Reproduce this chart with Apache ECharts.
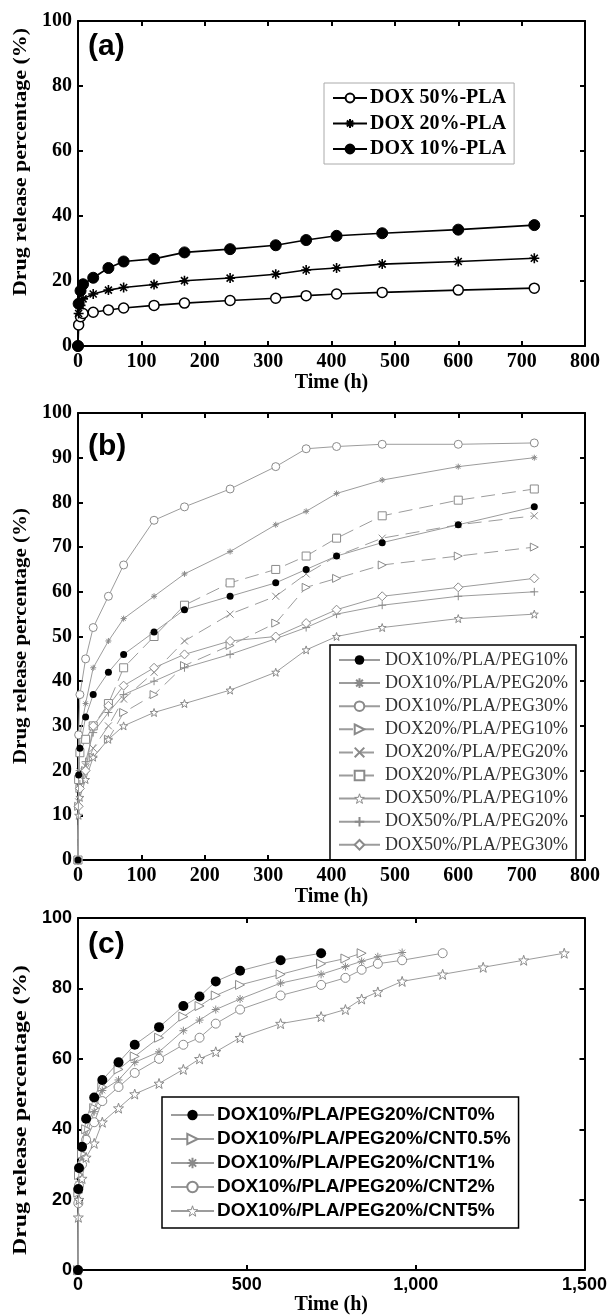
<!DOCTYPE html>
<html>
<head>
<meta charset="utf-8">
<script src="https://cdn.jsdelivr.net/npm/echarts@6/dist/echarts.min.js"></script>
<style>
  html, body { margin: 0; padding: 0; background: #fff; }
  #main { width: 610px; height: 1316px; }
</style>
</head>
<body>
<div id="main"></div>
<script>
// ---- panel (a) : DOX-PLA ----
var timeA = [0, 1, 4, 8, 24, 48, 72, 120, 168, 240, 312, 360, 408, 480, 600, 720];
var dox50A = [0, 6.5, 9, 10, 10.4, 11.1, 11.7, 12.5, 13.2, 14, 14.7, 15.5, 16, 16.5, 17.2, 17.8];
var dox20A = [0, 10, 12.5, 14.5, 16, 17.2, 18, 18.9, 20.1, 20.9, 22.1, 23.4, 24, 25.2, 26, 27];
var dox10A = [0, 13, 17, 19, 21, 24, 26, 26.8, 28.8, 29.8, 31, 32.6, 33.9, 34.7, 35.8, 37.2];

// ---- panel (b) : DOX/PLA/PEG ----
var timeB = [0, 1, 3, 12, 24, 48, 72, 120, 168, 240, 312, 360, 408, 480, 600, 720];
var d10p10 = [0, 19, 25, 32, 37, 42, 46, 51, 56, 59, 62, 65, 68, 71, 75, 79];
var d10p20 = [0, 20, 28, 35, 43, 49, 54, 59, 64, 69, 75, 78, 82, 85, 88, 90];
var d10p30 = [0, 28, 37, 45, 52, 59, 66, 76, 79, 83, 88, 92, 92.5, 93, 93, 93.3];
var d20p10 = [0, 12, 16, 20, 23, 27, 33, 37, 43.5, 48, 53, 61, 63, 66, 68, 70];
var d20p20 = [0, 13, 17, 21, 25, 30, 36, 42, 49, 55, 59, 64, 68, 72, 75, 77];
var d20p30 = [0, 18, 24, 27, 30, 35, 43, 50, 57, 62, 65, 68, 72, 77, 80.5, 83];
var d50p10 = [0, 10, 14, 18, 23, 27, 30, 33, 35, 38, 42, 47, 50, 52, 54, 55];
var d50p20 = [0, 12, 17, 22, 28.5, 33, 37, 40, 43, 46, 49.5, 52, 55, 57, 59, 60];
var d50p30 = [0, 12, 16, 20, 30, 34.5, 39, 43, 46, 49, 50, 53, 56, 59, 61, 63];

// ---- panel (c) : CNT content ----
var timeC = [0, 1, 3, 12, 24, 48, 72, 120, 168, 240, 312, 360, 408, 480, 600, 720, 792, 840, 888, 960, 1080, 1200, 1320, 1440];
var cnt0 = [0, 23, 29, 35, 43, 49, 54, 59, 64, 69, 75, 77.7, 82, 85, 88, 90];
var cnt05 = [0, 22, 27, 33, 40, 46, 52, 57, 60.7, 66, 72, 75, 78, 81, 84, 87, 88.5, 90];
var cnt1 = [0, 20, 25, 31, 38, 45, 51, 54, 59, 62, 68, 71, 74, 77, 81.5, 84, 86.2, 87.7, 89, 90.2];
var cnt2 = [0, 19, 24, 30, 37, 42, 48, 52, 56, 60, 64, 66, 70, 74, 78, 81, 83, 85.3, 87, 88, 90];
var cnt5 = [0, 15, 20, 26, 32, 36, 42, 46, 50, 53, 57, 60, 62, 66, 70, 72, 74, 77, 79, 82, 84, 86, 88, 90];

var namesA = ['DOX 50%-PLA', 'DOX 20%-PLA', 'DOX 10%-PLA'];
var namesB = ['DOX10%/PLA/PEG10%', 'DOX10%/PLA/PEG20%', 'DOX10%/PLA/PEG30%',
              'DOX20%/PLA/PEG10%', 'DOX20%/PLA/PEG20%', 'DOX20%/PLA/PEG30%',
              'DOX50%/PLA/PEG10%', 'DOX50%/PLA/PEG20%', 'DOX50%/PLA/PEG30%'];
var namesC = ['DOX10%/PLA/PEG20%/CNT0%', 'DOX10%/PLA/PEG20%/CNT0.5%', 'DOX10%/PLA/PEG20%/CNT1%',
              'DOX10%/PLA/PEG20%/CNT2%', 'DOX10%/PLA/PEG20%/CNT5%'];
var yTitle = 'Drug release percentage (%)';

var SERIF = '"Liberation Serif", "Times New Roman", serif';
var SANS = '"Liberation Sans", Arial, sans-serif';

// marker shapes
var ASTER = 'path://M5,0L5,10M0,5L10,5M1.5,1.5L8.5,8.5M1.5,8.5L8.5,1.5';
var PLUS = 'path://M5,0L5,10M0,5L10,5';
var CROSS = 'path://M0,0L10,10M0,10L10,0';
var TRI_R = 'path://M0,0L10,5L0,10Z';
var STAR = 'path://M10,0L12.4,7L20,7.2L14,11.8L16.2,19L10,14.8L3.8,19L6,11.8L0,7.2L7.6,7Z';

function pairs(t, v) {
  return v.map(function (y, i) { return [t[i], y]; });
}

function line(name, g, t, v, o) {
  return {
    name: name, type: 'line', xAxisIndex: g * 2, yAxisIndex: g * 2,
    data: pairs(t, v),
    symbol: o.symbol, symbolSize: o.size,
    showSymbol: true, showAllSymbol: true, animation: false,
    lineStyle: { color: o.line, width: o.lw, type: o.dash || 'solid' },
    itemStyle: { color: o.fill, borderColor: o.stroke, borderWidth: o.bw },
    z: o.z || 2
  };
}

function axesFor(g, xmax, xstep, ystep, labelFont, lblSize, lw, nameGap) {
  var lbl = { fontFamily: labelFont, fontWeight: 'bold', fontSize: lblSize, color: '#000' };
  var base = {
    gridIndex: g, type: 'value', splitLine: { show: false },
    axisLine: { onZero: false, lineStyle: { color: '#000', width: lw } },
    axisTick: { inside: true, length: 5, lineStyle: { color: '#000', width: lw } }
  };
  var xb = Object.assign({}, base, {
    min: 0, max: xmax, interval: xstep, position: 'bottom',
    axisLabel: Object.assign({ margin: 6 }, lbl),
    name: 'Time (h)', nameLocation: 'middle', nameGap: nameGap,
    nameTextStyle: { fontFamily: SERIF, fontWeight: 'bold', fontSize: 20, color: '#000' }
  });
  var xt = Object.assign({}, base, { min: 0, max: xmax, interval: xstep, position: 'top', axisLabel: { show: false } });
  var yl = Object.assign({}, base, {
    min: 0, max: 100, interval: ystep, position: 'left',
    axisLabel: Object.assign({ margin: 6 }, lbl)
  });
  var yr = Object.assign({}, base, { min: 0, max: 100, interval: ystep, position: 'right', axisLabel: { show: false } });
  return { x: [xb, xt], y: [yl, yr] };
}

var aA = axesFor(0, 800, 100, 20, SERIF, 20, 2, 26);
var aB = axesFor(1, 800, 100, 10, SERIF, 20, 2, 27);
var aC = axesFor(2, 1500, 500, 20, SANS, 18, 2, 24);

var GL = '#9c9c9c';   // grey line colour (b), (c)
var GM = '#8a8a8a';   // grey marker colour

var series = [
  line(namesA[0], 0, timeA, dox50A, { symbol: 'circle', size: 10, line: '#000', lw: 1.6, fill: '#fff', stroke: '#000', bw: 1.5 }),
  line(namesA[1], 0, timeA, dox20A, { symbol: ASTER, size: 10, line: '#000', lw: 1.6, fill: '#000', stroke: '#000', bw: 1.6 }),
  line(namesA[2], 0, timeA, dox10A, { symbol: 'circle', size: 11, line: '#000', lw: 1.6, fill: '#000', stroke: '#000', bw: 1 }),

  line(namesB[0], 1, timeB, d10p10, { symbol: 'circle', size: 7, line: GL, lw: 1, fill: '#000', stroke: '#000', bw: 0, z: 5 }),
  line(namesB[1], 1, timeB, d10p20, { symbol: ASTER, size: 6, line: GL, lw: 1, fill: GM, stroke: GM, bw: 1 }),
  line(namesB[2], 1, timeB, d10p30, { symbol: 'circle', size: 8, line: GL, lw: 1, fill: '#fff', stroke: GM, bw: 1 }),
  line(namesB[3], 1, timeB, d20p10, { symbol: TRI_R, size: 8, line: GL, lw: 1, dash: [14, 7], fill: '#fff', stroke: GM, bw: 1 }),
  line(namesB[4], 1, timeB, d20p20, { symbol: CROSS, size: 7, line: GL, lw: 1, dash: [14, 7], fill: GM, stroke: GM, bw: 1 }),
  line(namesB[5], 1, timeB, d20p30, { symbol: 'rect', size: 8, line: GL, lw: 1, dash: [14, 7], fill: '#fff', stroke: GM, bw: 1 }),
  line(namesB[6], 1, timeB, d50p10, { symbol: STAR, size: 8, line: GL, lw: 1, fill: '#fff', stroke: GM, bw: 1 }),
  line(namesB[7], 1, timeB, d50p20, { symbol: PLUS, size: 8, line: GL, lw: 1, fill: GM, stroke: GM, bw: 1 }),
  line(namesB[8], 1, timeB, d50p30, { symbol: 'diamond', size: 9, line: GL, lw: 1, fill: '#fff', stroke: GM, bw: 1 }),

  line(namesC[0], 2, timeC, cnt0, { symbol: 'circle', size: 10, line: GL, lw: 1, fill: '#000', stroke: '#000', bw: 0, z: 5 }),
  line(namesC[1], 2, timeC, cnt05, { symbol: TRI_R, size: 9, line: GL, lw: 1, fill: '#fff', stroke: GM, bw: 1 }),
  line(namesC[2], 2, timeC, cnt1, { symbol: ASTER, size: 8, line: GL, lw: 1, fill: GM, stroke: GM, bw: 1 }),
  line(namesC[3], 2, timeC, cnt2, { symbol: 'circle', size: 9, line: GL, lw: 1, fill: '#fff', stroke: GM, bw: 1 }),
  line(namesC[4], 2, timeC, cnt5, { symbol: STAR, size: 10, line: GL, lw: 1, fill: '#fff', stroke: GM, bw: 1 })
];

// legend entries; the hollow star needs its style spelled out for the legend icon
function legendItems(names) {
  return names.map(function (n) {
    var s = series.filter(function (x) { return x.name === n; })[0];
    if (s && s.symbol === STAR) {
      return { name: n, itemStyle: { color: '#fff', borderColor: GM, borderWidth: 1 } };
    }
    return n;
  });
}

// the y titles in the figure are drawn slightly elongated; stretch them to the measured length
var TITLE_FONT = 'bold 19px ' + SERIF;
var ctx = document.createElement('canvas').getContext('2d');
ctx.font = TITLE_FONT;
var titleW = ctx.measureText(yTitle).width || 230;
function yName(cx, cy, len) {
  return {
    type: 'text', x: cx, y: cy, rotation: Math.PI / 2, scaleX: len / titleW,
    style: { text: yTitle, font: TITLE_FONT, fill: '#000', align: 'center', verticalAlign: 'middle' }
  };
}
function panelTag(txt, top) {
  return { type: 'text', left: 88, top: top, style: { text: txt, fontFamily: SANS, fontWeight: 'bold', fontSize: 30, fill: '#000' } };
}

var myChart = echarts.init(document.getElementById('main'), null, { renderer: 'canvas' });
myChart.setOption({
  backgroundColor: '#fff',
  animation: false,
  grid: [
    { left: 78, right: 25, top: 21, height: 325 },
    { left: 78, right: 25, top: 413, height: 447 },
    { left: 78, right: 25, top: 918, height: 353 }
  ],
  xAxis: aA.x.concat(aB.x, aC.x),
  yAxis: aA.y.concat(aB.y, aC.y),
  legend: [
    {
      data: namesA, orient: 'vertical', left: 324, top: 83,
      itemWidth: 34, itemHeight: 11, itemGap: 5.5, padding: [5, 8, 5, 8],
      backgroundColor: '#fff', borderColor: '#aaa', borderWidth: 1,
      textStyle: { fontFamily: SERIF, fontWeight: 'bold', fontSize: 20, lineHeight: 20, color: '#000', padding: [0, 0, 0, -2] }
    },
    {
      data: legendItems(namesB), orient: 'vertical', left: 330, top: 645,
      itemWidth: 41, itemHeight: 12, itemGap: 3.1, padding: [5, 8, 5, 8],
      backgroundColor: '#fff', borderColor: '#000', borderWidth: 1.5,
      textStyle: { fontFamily: SERIF, fontSize: 18, lineHeight: 20, color: '#333' }
    },
    {
      data: legendItems(namesC), orient: 'vertical', left: 162, top: 1097,
      itemWidth: 43, itemHeight: 13, itemGap: 4, padding: [8, 8, 7, 8],
      backgroundColor: '#fff', borderColor: '#000', borderWidth: 1.5,
      textStyle: { fontFamily: SANS, fontWeight: 'bold', fontSize: 19, lineHeight: 20, color: '#000', padding: [0, 0, 0, -2] }
    }
  ],
  graphic: [
    panelTag('(a)', 32), panelTag('(b)', 432), panelTag('(c)', 930),
    yName(21, 162, 268), yName(21, 636, 256), yName(21, 1110, 290)
  ],
  series: series
});
</script>
</body>
</html>
